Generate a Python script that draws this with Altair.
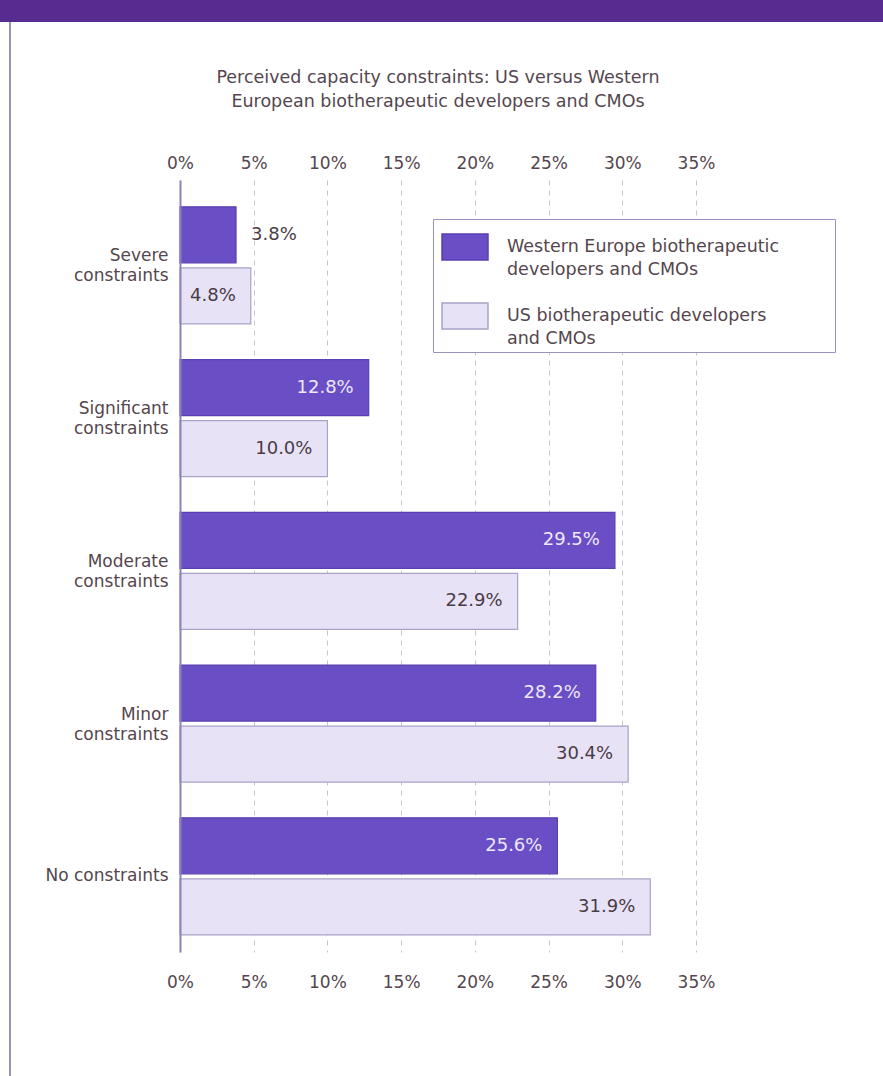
import altair as alt
import pandas as pd

# Survey results: share of respondents reporting each level of capacity constraint (%)
categories = [
    "Severe constraints",
    "Significant constraints",
    "Moderate constraints",
    "Minor constraints",
    "No constraints",
]
series = [
    "Western Europe biotherapeutic developers and CMOs",
    "US biotherapeutic developers and CMOs",
]
western_europe = [3.8, 12.8, 29.5, 28.2, 25.6]
us = [4.8, 10.0, 22.9, 30.4, 31.9]
x_ticks = [0, 5, 10, 15, 20, 25, 30, 35]

# Legend labels broken over two lines (trailing blank cells widen the legend box)
BLANK = "\u2800"
legend_lines = {
    series[0]: ["Western Europe biotherapeutic" + BLANK * 4, "developers and CMOs"],
    series[1]: ["US biotherapeutic developers", "and CMOs"],
}

rows = []
for cat, we, u in zip(categories, western_europe, us):
    rows.append({"constraint": cat, "group": series[0], "share": we})
    rows.append({"constraint": cat, "group": series[1], "share": u})
df = pd.DataFrame(rows)

FONT = "DejaVu Sans"
TEXT = "#54464e"
DARK_BAR = "#6a4ec6"
LIGHT_BAR = "#e8e2f6"


def js_list(items):
    return "[" + ", ".join("'" + s + "'" for s in items) + "]"


legend_expr = (
    f"datum.label == '{series[0]}' ? {js_list(legend_lines[series[0]])} : "
    f"{js_list(legend_lines[series[1]])}"
)
y_label_expr = "datum.label == 'No constraints' ? datum.label : split(datum.label, ' ')"

y_enc = alt.Y(
    "constraint:N",
    sort=categories,
    title=None,
    scale=alt.Scale(paddingInner=0.234, paddingOuter=0.144, align=0.61),
    axis=alt.Axis(
        labelExpr=y_label_expr,
        labelFont=FONT,
        labelFontSize=17,
        labelColor=TEXT,
        labelLineHeight=20,
        labelPadding=12,
        # two-line labels sit centred on their group, single-line ones on the middle
        labelBaseline={
            "condition": {"test": "datum.label == 'No constraints'", "value": "middle"},
            "value": "bottom",
        },
        ticks=False,
        domainColor="#8b82c4",
        domainWidth=2,
        zindex=1,
    ),
)
y_off = alt.YOffset(
    "group:N", sort=series, scale=alt.Scale(paddingInner=0.082, paddingOuter=0)
)

x_scale = alt.Scale(domain=[0, 35], nice=False)
x_top = alt.X(
    "share:Q",
    title=None,
    scale=x_scale,
    axis=alt.Axis(
        orient="top",
        values=x_ticks,
        labelExpr="datum.value + '%'",
        labelFont=FONT,
        labelFontSize=17,
        labelColor=TEXT,
        labelPadding=8,
        labelFlush=False,
        ticks=False,
        domain=False,
        grid=True,
        gridDash=[5, 5],
        gridColor="#c6c4cc",
        gridWidth=1,
    ),
)
x_bottom = alt.X(
    "share:Q",
    title=None,
    scale=x_scale,
    axis=alt.Axis(
        orient="bottom",
        values=x_ticks,
        labelExpr="datum.value + '%'",
        labelFont=FONT,
        labelFontSize=17,
        labelColor=TEXT,
        labelPadding=22,
        labelFlush=False,
        ticks=False,
        domain=False,
        grid=False,
    ),
)
x_plain = alt.X("share:Q", title=None, scale=x_scale, axis=None)

base = alt.Chart(df)

bars = base.mark_bar(strokeWidth=1.2).encode(
    x=x_top,
    y=y_enc,
    yOffset=y_off,
    color=alt.Color(
        "group:N",
        sort=series,
        scale=alt.Scale(domain=series, range=[DARK_BAR, LIGHT_BAR]),
        legend=alt.Legend(
            title=None,
            orient="none",
            legendX=253,
            legendY=39,
            symbolType="M-1,-0.565L1,-0.565L1,0.565L-1,0.565Z",
            symbolSize=2116,
            symbolStrokeColor="#8f86bc",
            symbolStrokeWidth=1.5,
            symbolOpacity=1,
            symbolOffset=4,
            labelExpr=legend_expr,
            labelFont=FONT,
            labelFontSize=17.5,
            labelColor=TEXT,
            labelBaseline="middle",
            labelOffset=18,
            labelLimit=500,
            rowPadding=13,
            padding=4,
            fillColor="white",
            strokeColor="#9a92c2",
        ),
    ),
    stroke=alt.Stroke(
        "group:N",
        scale=alt.Scale(domain=series, range=["#5a40b0", "#aaa2c8"]),
        legend=None,
    ),
)

labelled = base.transform_calculate(
    label="format(datum.share, '.1f') + '%'"
)

inside = labelled.transform_filter("datum.share >= 4.5").mark_text(
    align="right", baseline="middle", dx=-15, font=FONT, fontSize=18
).encode(
    x=x_bottom,
    y=y_enc,
    yOffset=y_off,
    text="label:N",
    color=alt.condition(
        f"datum.group == '{series[0]}'", alt.value("#eee8fb"), alt.value("#4a3c46")
    ),
)

outside = labelled.transform_filter("datum.share < 4.5").mark_text(
    align="left", baseline="middle", dx=15, font=FONT, fontSize=18
).encode(
    x=x_plain,
    y=y_enc,
    yOffset=y_off,
    text="label:N",
    color=alt.value("#4a3c46"),
)

# Page header strip and left page border
frame_data = alt.Data(values=[{"k": 1}])
header = alt.Chart(frame_data).mark_rect(color="#572b90").encode(
    x=alt.value(-180), x2=alt.value(703), y=alt.value(-180), y2=alt.value(-158)
)
border = alt.Chart(frame_data).mark_rule(color="#9a92ae", strokeWidth=2).encode(
    x=alt.value(-170), y=alt.value(-158), y2=alt.value(896)
)

chart = (
    alt.layer(header, border, bars, inside, outside)
    .properties(
        width=516,
        height=772,
        title=alt.Title(
            [
                "Perceived capacity constraints: US versus Western",
                "European biotherapeutic developers and CMOs",
            ],
            font=FONT,
            fontSize=17.5,
            fontWeight="normal",
            color=TEXT,
            lineHeight=24,
            anchor="middle",
            frame="group",
            offset=-110,
        ),
        autosize=alt.AutoSizeParams(type="none"),
        padding={"left": 180, "top": 180, "right": 187, "bottom": 124},
        background="white",
    )
    .configure(style={"guide-label": {"lineHeight": 23}})
    .configure_view(stroke=None)
)

chart.save("out.html", embed_options={"renderer": "svg", "actions": False})
